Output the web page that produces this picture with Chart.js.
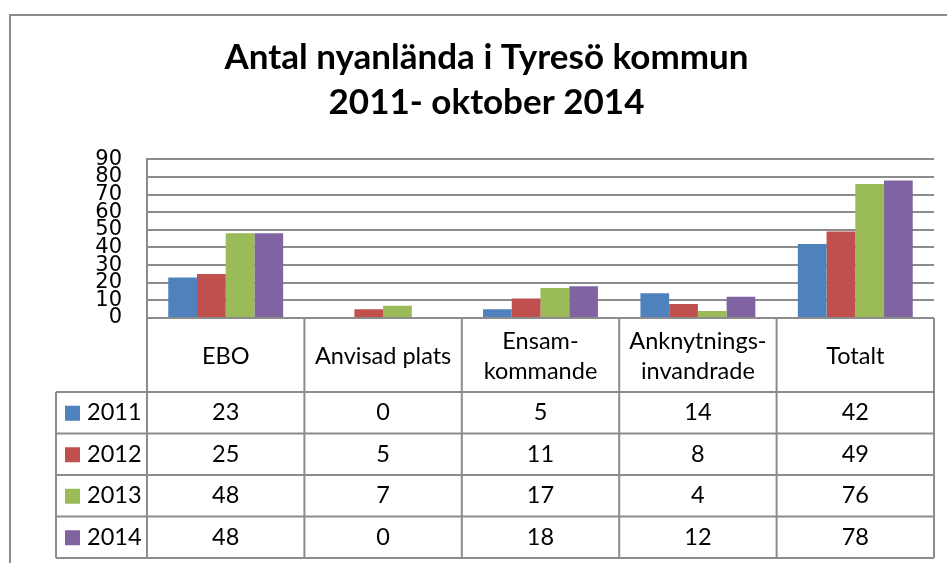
<!DOCTYPE html>
<html>
<head>
<meta charset="utf-8">
<script src="https://cdn.jsdelivr.net/npm/chart.js@4.4.0/dist/chart.umd.min.js"></script>
<style>
    html, body { margin: 0; padding: 0; background: #fff; }
    #wrap { width: 947px; height: 563px; position: relative; }
</style>
</head>
<body>
<div id="wrap"><canvas id="chart" width="947" height="563"></canvas></div>
<script>
const titleLines = ['Antal nyanlända i Tyresö kommun', '2011- oktober 2014'];
const categories = ['EBO', 'Anvisad plats', 'Ensam-\nkommande', 'Anknytnings-\ninvandrade', 'Totalt'];
const years = ['2011', '2012', '2013', '2014'];
const values2011 = [23, 0, 5, 14, 42];
const values2012 = [25, 5, 11, 8, 49];
const values2013 = [48, 7, 17, 4, 76];
const values2014 = [48, 0, 18, 12, 78];
const yTicks = [0, 10, 20, 30, 40, 50, 60, 70, 80, 90];

const seriesColors = ['#4F81BD', '#C0504D', '#9BBB59', '#8064A2'];
const seriesValues = [values2011, values2012, values2013, values2014];
const lineGray = '#8c8c8c';
const tableFont = '23.5px Lato, "Open Sans", sans-serif';

// frame around the whole chart object (runs off to the right and bottom)
const framePlugin = {
    id: 'frame',
    beforeDraw(chart) {
        const ctx = chart.ctx;
        ctx.save();
        ctx.strokeStyle = '#8a8a8a';
        ctx.lineWidth = 2;
        ctx.beginPath();
        ctx.moveTo(10, 563);
        ctx.lineTo(10, 15);
        ctx.lineTo(947, 15);
        ctx.stroke();
        ctx.restore();
    }
};

// data table under the plot, columns taken from the x scale
const dataTablePlugin = {
    id: 'dataTable',
    afterDraw(chart) {
        const ctx = chart.ctx;
        const x = chart.scales.x;
        const area = chart.chartArea;
        const colW = x.width / categories.length;
        const headTop = area.bottom;
        const headH = 74;
        const rowH = 41.5;
        const legendLeft = 56;
        const bottom = headTop + headH + rowH * years.length;

        ctx.save();
        ctx.strokeStyle = lineGray;
        ctx.lineWidth = 2;

        // vertical lines of the category columns
        for (let i = 0; i <= categories.length; i++) {
            const cx = x.left + i * colW;
            ctx.beginPath();
            ctx.moveTo(cx, headTop);
            ctx.lineTo(cx, bottom);
            ctx.stroke();
        }
        // legend column left edge
        ctx.beginPath();
        ctx.moveTo(legendLeft, headTop + headH);
        ctx.lineTo(legendLeft, bottom);
        ctx.stroke();
        // horizontal lines
        ctx.beginPath();
        ctx.moveTo(x.left, headTop);
        ctx.lineTo(x.right, headTop);
        ctx.stroke();
        for (let r = 0; r <= years.length; r++) {
            const ry = headTop + headH + r * rowH;
            ctx.beginPath();
            ctx.moveTo(legendLeft, ry);
            ctx.lineTo(x.right, ry);
            ctx.stroke();
        }

        ctx.fillStyle = '#000';
        ctx.font = tableFont;
        ctx.textAlign = 'center';
        ctx.textBaseline = 'middle';

        // category headers
        categories.forEach((cat, i) => {
            const cx = x.getPixelForValue(i);
            const lines = cat.split('\n');
            const lh = 30;
            const startY = headTop + headH / 2 + 1 - (lines.length - 1) * lh / 2;
            lines.forEach((ln, k) => ctx.fillText(ln, cx, startY + k * lh));
        });

        // rows with legend keys
        years.forEach((yr, r) => {
            const cy = headTop + headH + r * rowH + rowH / 2;
            ctx.fillStyle = seriesColors[r];
            ctx.fillRect(legendLeft + 9, cy - 7, 15, 15);
            ctx.fillStyle = '#000';
            ctx.textAlign = 'left';
            ctx.fillText(yr, legendLeft + 31, cy);
            ctx.textAlign = 'center';
            seriesValues[r].forEach((v, i) => {
                ctx.fillText(String(v), x.getPixelForValue(i), cy);
            });
        });
        ctx.restore();
    }
};

new Chart(document.getElementById('chart').getContext('2d'), {
    type: 'bar',
    data: {
        labels: categories,
        datasets: years.map((yr, i) => ({
            label: yr,
            data: seriesValues[i],
            backgroundColor: seriesColors[i],
            borderWidth: 0,
            categoryPercentage: 0.73,
            barPercentage: 1
        }))
    },
    options: {
        responsive: false,
        animation: false,
        layout: { padding: { top: 0, left: 39, right: 13, bottom: 245 } },
        plugins: {
            legend: { display: false },
            tooltip: { enabled: false },
            title: {
                display: true,
                text: titleLines,
                color: '#000',
                font: { family: 'Lato, "Open Sans", sans-serif', size: 35, weight: 'bold', lineHeight: 1.29 },
                padding: { top: 35, bottom: 34 }
            }
        },
        scales: {
            x: {
                display: false,
                grid: { display: false }
            },
            y: {
                min: 0,
                max: 90,
                afterFit: (s) => { s.width = 108; },
                afterBuildTicks: (s) => { s.ticks = yTicks.map((v) => ({ value: v })); },
                border: { display: true, color: lineGray, width: 2 },
                grid: { color: lineGray, lineWidth: 2, drawTicks: false },
                ticks: {
                    autoSkip: false,
                    padding: 25,
                    color: '#000',
                    font: { family: '"DejaVu Sans", sans-serif', size: 21, lineHeight: 0.85 }
                }
            }
        }
    },
    plugins: [framePlugin, dataTablePlugin]
});
</script>
</body>
</html>
